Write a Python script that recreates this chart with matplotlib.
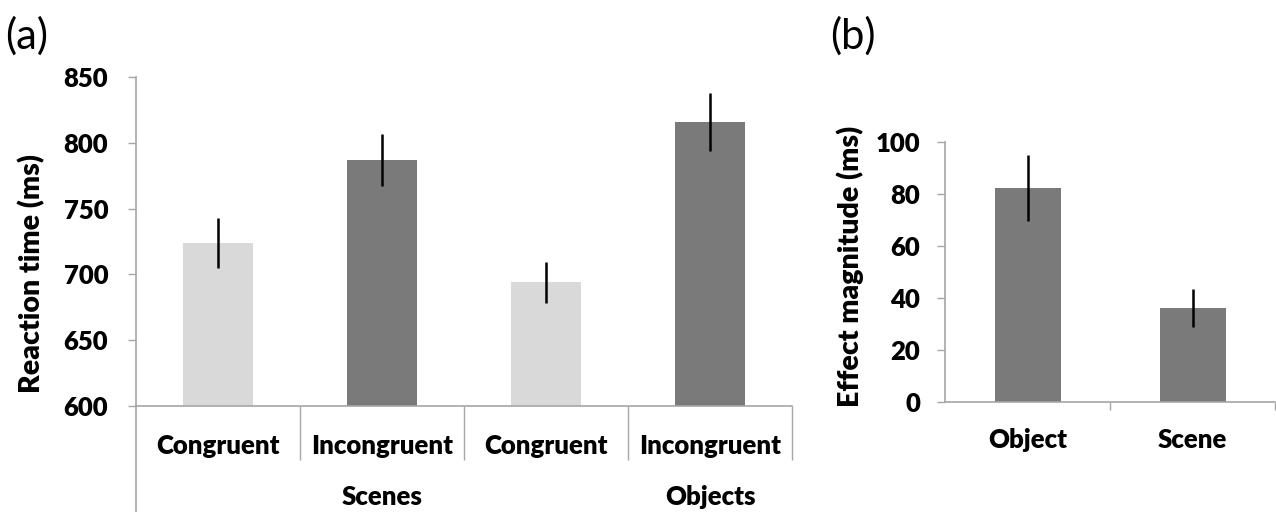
import matplotlib
matplotlib.use("Agg")
import matplotlib.pyplot as plt

plt.rcParams['font.family'] = ['Lato', 'DejaVu Sans']

# panel (a) data
conditions = ['Congruent', 'Incongruent', 'Congruent', 'Incongruent']
groups = ['Scenes', 'Objects']
rt_means = [724, 787, 694, 816]
rt_errs = [19, 20, 15.5, 22]
rt_colors = ['#d9d9d9', '#7a7a7a', '#d9d9d9', '#7a7a7a']

# panel (b) data
effect_labels = ['Object', 'Scene']
effect_means = [82.3, 36.2]
effect_errs = [12.8, 7.2]

axis_grey = '#a6a6a6'
fs = 18.5
fw = 'heavy'
fig = plt.figure(figsize=(12.76, 5.12), dpi=100)

# ---- panel (a)
ax1 = fig.add_axes([136 / 1276, 1 - 406 / 512, 656 / 1276, 329 / 512])
x1 = list(range(len(conditions)))
ax1.bar(x1, [m - 600 for m in rt_means], bottom=600, width=0.43, color=rt_colors, zorder=2)
ax1.errorbar(x1, rt_means, yerr=rt_errs, fmt='none', ecolor='black', elinewidth=1.8, capsize=0, zorder=3)
ax1.set_xlim(-0.5, 3.5)
ax1.set_ylim(600, 850)
ax1.set_yticks([600, 650, 700, 750, 800, 850])
ax1.set_ylabel('Reaction time (ms)', fontsize=20.5, fontweight=fw)
ax1.yaxis.set_label_coords(-0.138, 0.404)

# category dividers as long major ticks, labels on minor ticks
ax1.set_xticks([0.5, 1.5, 2.5, 3.5])
ax1.set_xticklabels([])
ax1.tick_params(axis='x', which='major', length=39, width=1, color=axis_grey, direction='out')
ax1.set_xticks(x1, minor=True)
ax1.set_xticklabels(conditions, minor=True, fontsize=fs, fontweight=fw)
ax1.tick_params(axis='x', which='minor', length=0, pad=20)
ax1.tick_params(axis='y', length=6, width=1, color=axis_grey, pad=14, labelsize=fs)
for lab in ax1.get_yticklabels():
    lab.set_fontweight(fw)

# y axis continues below the category labels
ax1.plot([-0.5, -0.5], [0, -0.33], transform=ax1.get_xaxis_transform(),
         color=axis_grey, lw=1.2, clip_on=False)
for gx, g in zip([1, 3], groups):
    ax1.text(gx, -0.277, g, transform=ax1.get_xaxis_transform(), ha='center', va='center',
             fontsize=fs, fontweight=fw)

for side in ['top', 'right']:
    ax1.spines[side].set_visible(False)
for side in ['left', 'bottom']:
    ax1.spines[side].set_color(axis_grey)
    ax1.spines[side].set_linewidth(1.2)

# ---- panel (b)
ax2 = fig.add_axes([945 / 1276, 1 - 402 / 512, 330 / 1276, 260 / 512])
x2 = list(range(len(effect_labels)))
ax2.bar(x2, effect_means, width=0.4, color='#7a7a7a', zorder=2)
ax2.errorbar(x2, effect_means, yerr=effect_errs, fmt='none', ecolor='black', elinewidth=1.8, capsize=0, zorder=3)
ax2.set_xlim(-0.5, 1.5)
ax2.set_ylim(0, 100)
ax2.set_yticks([0, 20, 40, 60, 80, 100])
ax2.set_ylabel('Effect magnitude (ms)', fontsize=20.5, fontweight=fw)
ax2.yaxis.set_label_coords(-0.245, 0.52)
ax2.set_xticks([0.5, 1.5])
ax2.set_xticklabels([])
ax2.tick_params(axis='x', which='major', length=6, width=1, color=axis_grey, direction='out')
ax2.set_xticks(x2, minor=True)
ax2.set_xticklabels(effect_labels, minor=True, fontsize=fs, fontweight=fw)
ax2.tick_params(axis='x', which='minor', length=0, pad=19)
ax2.tick_params(axis='y', length=6, width=1, color=axis_grey, pad=12, labelsize=fs)
for lab in ax2.get_yticklabels():
    lab.set_fontweight(fw)
for side in ['top', 'right']:
    ax2.spines[side].set_visible(False)
for side in ['left', 'bottom']:
    ax2.spines[side].set_color(axis_grey)
    ax2.spines[side].set_linewidth(1.2)

fig.text(5 / 1276, 1 - 36 / 512, '(a)', fontsize=30, va='center', ha='left')
fig.text(830 / 1276, 1 - 36 / 512, '(b)', fontsize=30, va='center', ha='left')

fig.savefig('out.png', dpi=100)
